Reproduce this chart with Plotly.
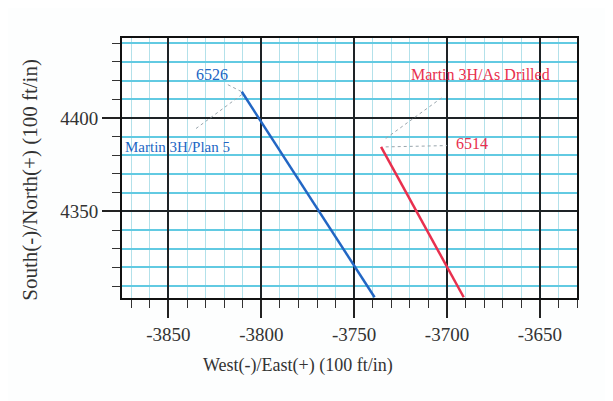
import plotly.graph_objects as go

# ---- data ----
plan_east = [-3810.5, -3739.0]
plan_north = [4414.0, 4304.0]
drilled_east = [-3735.5, -3691.0]
drilled_north = [4384.5, 4304.0]

x_range = [-3875, -3630]
y_range = [4303.6, 4442.8]
x_tick_vals = [-3850, -3800, -3750, -3700, -3650]
y_tick_vals = [4350, 4400]

plan_depth_label = "6526"
plan_name_label = "Martin 3H/Plan 5"
drilled_depth_label = "6514"
drilled_name_label = "Martin 3H/As Drilled"

# label anchor positions (data coords) and leader line ends
plan_depth_pos = (-3826.5, 4423.2)
plan_depth_leader = ([-3818.0, -3810.5], [4417.8, 4414.0])
plan_name_pos = (-3845.0, 4384.6)
plan_name_leader = ([-3810.5, -3836.0], [4412.5, 4393.7])
drilled_name_pos = (-3682.0, 4423.2)
drilled_name_leader = ([-3733.0, -3703.0], [4389.0, 4410.7])
drilled_depth_pos = (-3686.4, 4386.3)
drilled_depth_leader = ([-3733.0, -3700.0], [4384.5, 4385.2])

BLUE = "#2266c4"
RED = "#e8304e"
LEADER = "#9aa6ad"
SERIF = "Liberation Serif"

fig = go.Figure()

for lx, ly in [plan_depth_leader, plan_name_leader, drilled_name_leader, drilled_depth_leader]:
    fig.add_trace(go.Scatter(x=lx, y=ly, mode="lines",
                             line=dict(color=LEADER, width=1, dash="dot"),
                             hoverinfo="skip", showlegend=False))

fig.add_trace(go.Scatter(x=plan_east, y=plan_north, mode="lines",
                         line=dict(color=BLUE, width=2.5), showlegend=False))
fig.add_trace(go.Scatter(x=drilled_east, y=drilled_north, mode="lines",
                         line=dict(color=RED, width=2.5), showlegend=False))

def label(pos, text, color, size=16):
    fig.add_annotation(x=pos[0], y=pos[1], text=text, showarrow=False,
                       font=dict(family=SERIF, size=size, color=color),
                       xanchor="center", yanchor="middle")

label(plan_depth_pos, plan_depth_label, BLUE)
label(plan_name_pos, plan_name_label, BLUE, 15)
label(drilled_name_pos, drilled_name_label, RED)
label(drilled_depth_pos, drilled_depth_label, RED)

axis_common = dict(
    ticks="outside", ticklen=18, tickwidth=1.5, tickcolor="#222",
    showgrid=True, gridcolor="#1e2326", gridwidth=1.6,
    showline=True, linecolor="#111", linewidth=2, mirror=True,
    zeroline=False,
    tickfont=dict(family=SERIF, size=19, color="#333"),
)

fig.update_xaxes(range=x_range, tickvals=x_tick_vals,
                 ticktext=[str(v) for v in x_tick_vals], **axis_common,
                 minor=dict(dtick=10, tick0=0, ticks="outside", ticklen=8, tickwidth=1.2,
                            tickcolor="#333", showgrid=True,
                            gridcolor="#b3e1ea", gridwidth=1))
fig.update_yaxes(range=y_range, tickvals=y_tick_vals,
                 ticktext=[str(v) for v in y_tick_vals], **axis_common,
                 minor=dict(dtick=10, tick0=0, ticks="outside", ticklen=8, tickwidth=1.2,
                            tickcolor="#333", showgrid=True,
                            gridcolor="#62cae2", gridwidth=1.5))

fig.add_annotation(xref="paper", yref="paper", x=0.387, y=-0.2615,
                   text="West(-)/East(+) (100 ft/in)", showarrow=False,
                   font=dict(family=SERIF, size=18, color="#333"),
                   xanchor="center", yanchor="middle")
fig.add_annotation(xref="paper", yref="paper", x=-0.2022, y=0.455,
                   text="South(-)/North(+) (100 ft/in)", showarrow=False,
                   textangle=-90,
                   font=dict(family=SERIF, size=21, color="#333"),
                   xanchor="center", yanchor="middle")

fig.update_layout(
    width=613, height=401,
    margin=dict(l=114, r=44, t=30, b=111),
    paper_bgcolor="#fdfefe", plot_bgcolor="#ffffff",
    showlegend=False,
)

fig.write_html("out.html")
